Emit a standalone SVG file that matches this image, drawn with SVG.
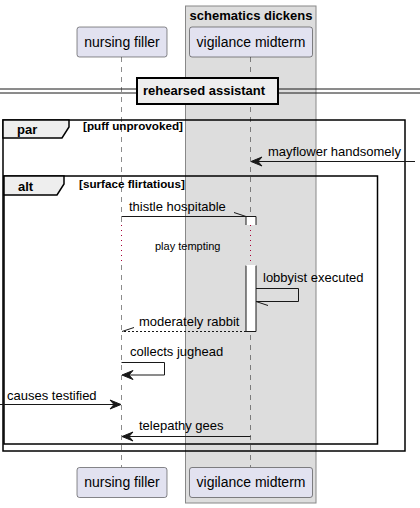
<svg xmlns="http://www.w3.org/2000/svg" width="420" height="508" viewBox="0 0 420 508">
<defs>
<style>
text{font-family:"Liberation Sans",Arial,sans-serif;fill:#000}
.msg{font-size:13px}
.b{font-weight:bold}
.guard{font-size:11.7px;font-weight:bold}
.part{fill:#E2E2F0;stroke:#181818;stroke-width:0.5}
.pt{font-size:14px}
.life{stroke:#181818;stroke-width:0.5;stroke-dasharray:5,5;fill:none}
.delay{stroke:#A80036;stroke-width:1;stroke-dasharray:1,4;fill:none}
.ln{stroke:#181818;stroke-width:1;fill:none}
.frame{fill:none;stroke:#000;stroke-width:1.5}
.tab{fill:#EEEEEE;stroke:#000;stroke-width:1.5}
.act{fill:#fff;stroke:#181818;stroke-width:1}
.ah{fill:#181818;stroke:#181818;stroke-width:1}
</style>
</defs>
<g id="group-schematics-dickens">
<rect x="185.5" y="6" width="130.5" height="497" fill="#DDDDDD" stroke="#888888" stroke-width="1"/>
<text class="msg b" x="251" y="20" text-anchor="middle">schematics dickens</text>
</g>
<g id="lifelines">
<path class="life" d="M121.5,57 V225 M121.5,265 V467 M250.5,57 V225 M250.5,265 V467"/>
<path class="delay" d="M121.5,225 V265 M250.5,225 V265"/>
</g>
<g id="participant-nursing-filler">
<rect class="part" x="77" y="27" width="90" height="30" rx="2.5"/>
<text class="pt" x="122" y="46.5" text-anchor="middle">nursing filler</text>
<rect class="part" x="77" y="467.5" width="90" height="30" rx="2.5"/>
<text class="pt" x="122" y="487" text-anchor="middle">nursing filler</text>
</g>
<g id="participant-vigilance-midterm">
<rect class="part" x="189.5" y="27" width="123" height="30" rx="2.5"/>
<text class="pt" x="251" y="46.5" text-anchor="middle">vigilance midterm</text>
<rect class="part" x="189.5" y="467.5" width="123" height="30" rx="2.5"/>
<text class="pt" x="251" y="487" text-anchor="middle">vigilance midterm</text>
</g>
<g id="divider-rehearsed-assistant">
<path class="ln" d="M0,89 H420 M0,93 H420"/>
<rect x="137" y="78" width="141" height="26" fill="#EEEEEE" stroke="#000" stroke-width="2"/>
<text class="msg b" x="143" y="95">rehearsed assistant</text>
</g>
<g id="frame-par">
<rect class="frame" x="3" y="120" width="402" height="331"/>
<path class="tab" d="M3,120 H69 V127 L62,138 H3 Z"/>
<text class="msg b" x="17" y="134">par</text>
<text class="guard" x="83" y="130">[puff unprovoked]</text>
</g>
<g id="frame-alt">
<rect class="frame" x="4" y="176" width="373.5" height="268"/>
<path class="tab" d="M4,176 H64 V184 L57,195 H4 Z"/>
<text class="msg b" x="18" y="191">alt</text>
<text class="guard" x="79" y="188">[surface flirtatious]</text>
</g>
<g id="activations">
<path class="act" d="M246,225 V216.5 H256 V225"/>
<path class="act" d="M246,265.5 V331.5 H256 V265.5"/>
<path d="M246.5,265.5 H255.5" stroke="#fff" stroke-width="1"/>
</g>
<g id="connectors">
<line class="ln" x1="415" y1="161.5" x2="253" y2="161.5"/>
<polygon class="ah" points="251,161.5 262,157 258,161.5 262,166"/>
<text class="msg" x="268" y="155.5">mayflower handsomely</text>

<line class="ln" x1="121.5" y1="216.5" x2="246" y2="216.5"/>
<line class="ln" x1="234" y1="212.5" x2="246" y2="216.5"/>
<text class="msg" x="129" y="210.5">thistle hospitable</text>

<text font-size="11" x="155" y="250">play tempting</text>

<path class="ln" d="M256,288.5 H298.5 V301.5 H256"/>
<line class="ln" x1="256" y1="301.5" x2="268" y2="305.5"/>
<text class="msg" x="263" y="281.5">lobbyist executed</text>

<line class="ln" x1="246" y1="331.5" x2="122" y2="331.5" stroke-dasharray="2,2"/>
<line class="ln" x1="122" y1="331.5" x2="134" y2="327.5"/>
<text class="msg" x="139" y="326">moderately rabbit</text>

<path class="ln" d="M121.5,362.5 H164.5 V375 H124"/>
<polygon class="ah" points="122,375 133,370.5 129,375 133,379.5"/>
<text class="msg" x="130" y="356">collects jughead</text>

<line class="ln" x1="0" y1="404.5" x2="119" y2="404.5"/>
<polygon class="ah" points="121,404.5 110,400 114,404.5 110,409"/>
<text class="msg" x="7" y="399.5">causes testified</text>

<line class="ln" x1="250.5" y1="436.5" x2="124" y2="436.5"/>
<polygon class="ah" points="122,436.5 133,432 129,436.5 133,441"/>
<text class="msg" x="139" y="430">telepathy gees</text>
</g>
</svg>
